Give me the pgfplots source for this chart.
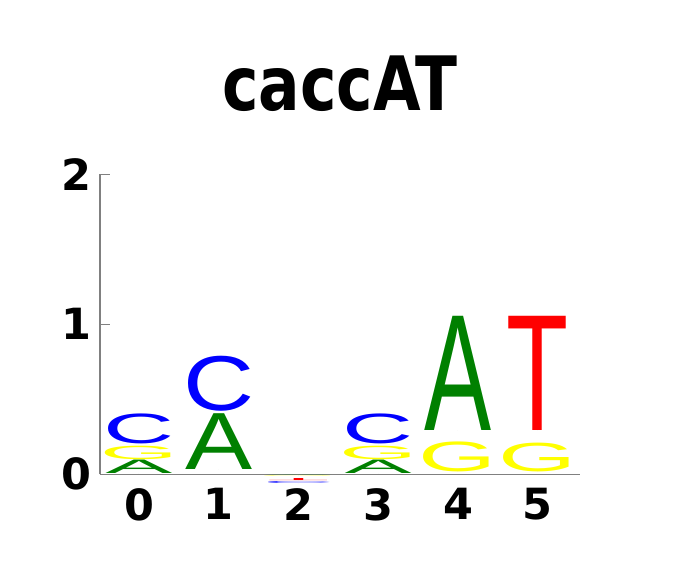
\documentclass[border=0pt]{standalone}
\usepackage{pgfplots}
\pgfplotsset{compat=1.18}
\usepackage{graphicx}
\usepackage{fontspec}
\setmainfont{DejaVu Sans}
\newfontfamily\logofont{Liberation Sans}
\definecolor{cA}{RGB}{0,128,0}
\definecolor{cC}{RGB}{0,0,255}
\definecolor{cG}{RGB}{255,255,0}
\definecolor{cT}{RGB}{255,0,0}
\definecolor{axgray}{RGB}{128,128,128}
\newdimen\lgunit \lgunit=150pt

% L={letter}{box width}{colour}{height (data units)}{1 upright / -1 flipped}
% the coordinate of each plot is (position, bottom of the letter)
\pgfplotsset{L/.style n args={5}{scatter, only marks, mark=*, mark size=0pt, point meta=y,
  scatter/@pre marker code/.code={\node[anchor=south, inner sep=0pt, outer sep=0pt] at (0pt,0pt)
     {\resizebox*{#2}{#4\lgunit}{\scalebox{1}[#5]{\logofont\textcolor{#3}{#1}}}};},
  scatter/@post marker code/.code={}}}

\begin{document}
\begin{tikzpicture}
\path[use as bounding box] (0,0) rectangle (680pt,575pt);
\begin{axis}[at={(100pt,100.7pt)}, anchor=south west, scale only axis,
  width=480pt, height=300pt,
  xmin=-0.489, xmax=5.53, ymin=0, ymax=2, clip=false,
  axis x line*=bottom, axis y line*=left,
  axis line style={axgray, line width=1.5pt},
  ytick={0,1,2}, xtick={0,1,2,3,4,5},
  tick align=inside, major tick length=10pt,
  ytick style={axgray, line width=1.5pt},
  xtick style={draw=none},
  /pgf/number format/assume math mode=true,
  tick label style={font=\fontsize{43}{43}\selectfont\bfseries},
  yticklabel style={anchor=east, inner sep=0pt, xshift=-8.5pt},
  xticklabel style={anchor=north, inner sep=0pt, yshift=-14pt},
  title={\scalebox{0.82}[1]{caccAT}},
  title style={font=\fontsize{75}{75}\selectfont\bfseries, at={(0.5,1)}, anchor=base, yshift=58pt, inner sep=0pt},
]
% position 0
\addplot[L={A}{67pt}{cA}{0.090}{1}] coordinates {(0,0.003)};
\addplot[L={G}{78pt}{cG}{0.090}{1}] coordinates {(0,0.100)};
\addplot[L={C}{71pt}{cC}{0.200}{1}] coordinates {(0,0.200)};
% position 1
\addplot[L={A}{67pt}{cA}{0.372}{1}] coordinates {(1,0.035)};
\addplot[L={C}{71pt}{cC}{0.367}{1}] coordinates {(1,0.417)};
% position 2 (tiny, below zero)
\addplot[L={A}{67pt}{cA}{0.003}{-1}] coordinates {(2,-0.0065)};
\addplot[L={G}{78pt}{cG}{0.004}{-1}] coordinates {(2,-0.011)};
\addplot[L={T}{62pt}{cT}{0.014}{-1}] coordinates {(2,-0.043)};
\addplot[L={C}{71pt}{cC}{0.013}{-1}] coordinates {(2,-0.062)};
% position 3
\addplot[L={A}{67pt}{cA}{0.090}{1}] coordinates {(3,0.003)};
\addplot[L={G}{78pt}{cG}{0.090}{1}] coordinates {(3,0.100)};
\addplot[L={C}{71pt}{cC}{0.200}{1}] coordinates {(3,0.200)};
% position 4
\addplot[L={G}{78pt}{cG}{0.200}{1}] coordinates {(4,0.017)};
\addplot[L={A}{67pt}{cA}{0.761}{1}] coordinates {(4,0.291)};
% position 5
\addplot[L={G}{78pt}{cG}{0.192}{1}] coordinates {(5,0.017)};
\addplot[L={T}{62pt}{cT}{0.761}{1}] coordinates {(5,0.291)};
\end{axis}
\end{tikzpicture}
\end{document}
